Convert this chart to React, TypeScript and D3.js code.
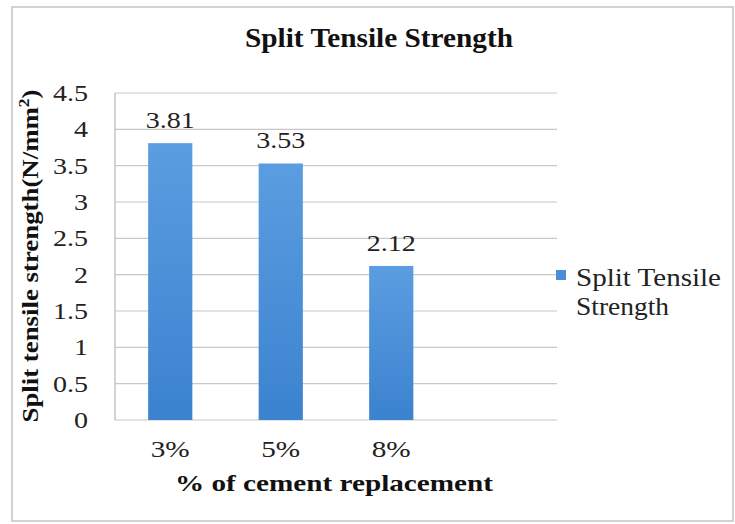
import React from 'react';
import * as d3 from 'd3';

const categories = ['3%', '5%', '8%'];
const values = [3.81, 3.53, 2.12];
const yTicks = [0, 0.5, 1, 1.5, 2, 2.5, 3, 3.5, 4, 4.5];
const chartTitle = 'Split Tensile Strength';
const xTitle = '% of cement replacement';
const legendLines = ['Split Tensile', 'Strength'];

const FONT = 'Liberation Serif';

// the source picture is stretched sideways, so text gets a horizontal scale
function T({ x, y, anchor = 'start', size = 23, bold = false, sx = 1.22, children }: any) {
  return (
    <text
      transform={`translate(${x},${y}) scale(${sx},1)`}
      textAnchor={anchor}
      style={{ fontFamily: FONT }}
      fontSize={size}
      fontWeight={bold ? 'bold' : 'normal'}
      fill={bold ? '#111' : '#222'}
    >
      {children}
    </text>
  );
}

export default function App() {
  const W = 735, H = 524;
  const plot = { left: 115, right: 557, top: 93, bottom: 420 };

  const y = d3.scaleLinear().domain([0, 4.5]).range([plot.bottom, plot.top]);
  // Excel left room for a 4th empty slot, so the 3 bars span 3/4 of the plot
  const slot = (plot.right - plot.left) / 4;
  const x = d3.scaleBand<string>()
    .domain(categories)
    .range([plot.left, plot.left + slot * categories.length])
    .paddingInner(0.6)
    .paddingOuter(0.3);
  const cx = (c: string) => x(c)! + x.bandwidth() / 2;

  return (
    <svg width={W} height={H} style={{ position: 'absolute', left: 0, top: 0, background: '#fff' }}>
      <defs>
        <linearGradient id="barGrad" x1="0" y1="0" x2="0" y2="1">
          <stop offset="0%" stopColor="#5b9de0" />
          <stop offset="100%" stopColor="#3b82cf" />
        </linearGradient>
      </defs>
      <rect x={12} y={7} width={721} height={514} fill="#fff" stroke="#c4c4c4" strokeWidth={1.5} />

      <text x={379} y={47} textAnchor="middle" style={{ fontFamily: FONT }} fontWeight="bold" fontSize={27}
        fill="#111" textLength={268} lengthAdjust="spacingAndGlyphs">
        {chartTitle}
      </text>

      {yTicks.map(t => (
        <g key={t}>
          <line x1={plot.left} x2={plot.right} y1={y(t)} y2={y(t)} stroke="#c8c8c8" strokeWidth={1.2} />
          <T x={88} y={y(t) + 8} anchor="end">{t}</T>
        </g>
      ))}
      <line x1={plot.left} x2={plot.left} y1={plot.top} y2={plot.bottom} stroke="#b8b8b8" strokeWidth={1.2} />

      {categories.map((c, i) => (
        <g key={c}>
          <rect x={x(c)} y={y(values[i])} width={x.bandwidth()} height={plot.bottom - y(values[i])} fill="url(#barGrad)" />
          <T x={cx(c)} y={y(values[i]) - 15} anchor="middle">{values[i]}</T>
          <T x={cx(c)} y={457} anchor="middle" size={24}>{c}</T>
        </g>
      ))}

      <text x={334} y={491} textAnchor="middle" style={{ fontFamily: FONT }} fontWeight="bold" fontSize={24}
        fill="#111" textLength={318} lengthAdjust="spacingAndGlyphs">
        {xTitle}
      </text>

      <text transform={`translate(38, 256) rotate(-90)`} textAnchor="middle"
        style={{ fontFamily: FONT }} fontWeight="bold" fontSize={23} fill="#111"
        textLength={333} lengthAdjust="spacingAndGlyphs">
        Split tensile strength(N/mm<tspan dy={-9} fontSize={15}>2</tspan><tspan dy={9}>)</tspan>
      </text>

      <rect x={556} y={270} width={10} height={10} fill="#4a8ed8" />
      {legendLines.map((l, i) => (
        <text key={l} x={576} y={286 + i * 29} style={{ fontFamily: FONT }} fontSize={25} fill="#222"
          textLength={i === 0 ? 145 : 93} lengthAdjust="spacingAndGlyphs">
          {l}
        </text>
      ))}
    </svg>
  );
}
